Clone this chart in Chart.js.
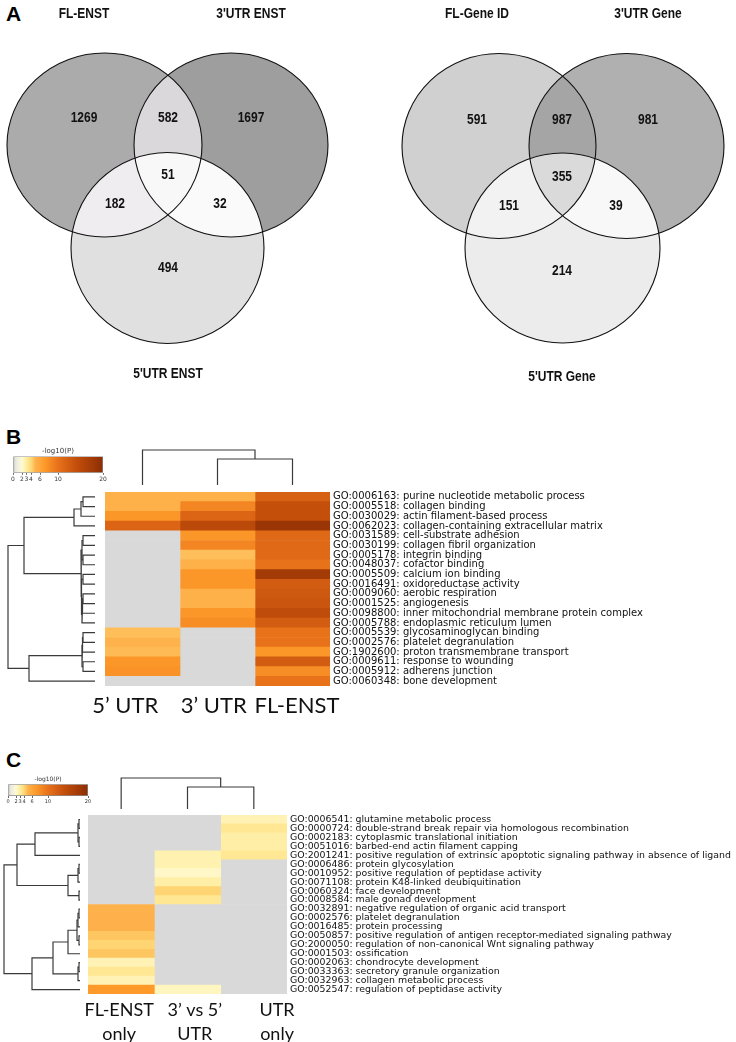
<!DOCTYPE html>
<html>
<head>
<meta charset="utf-8">
<script src="https://cdn.jsdelivr.net/npm/chart.js@4.4.0/dist/chart.umd.min.js"></script>
<style>
  body { margin: 0; width: 736px; height: 1042px; background: #fff; position: relative; overflow: hidden; }
  .box { position: absolute; }
  .tag { position: absolute; font-family: "Liberation Sans", Arial, sans-serif; font-weight: bold; font-size: 21px; color: #000; }
</style>
</head>
<body>
<div class="tag" style="left:6px;top:2px">A</div>
<div class="tag" style="left:6px;top:425px">B</div>
<div class="tag" style="left:6px;top:748px">C</div>

<div class="box" style="left:0;top:0"><canvas id="venn" width="736" height="392"></canvas></div>

<div class="box" style="left:0;top:446px"><canvas id="legB" width="116" height="38"></canvas></div>
<div class="box" style="left:105px;top:444px"><canvas id="colB" width="225" height="41"></canvas></div>
<div class="box" style="left:0;top:492px"><canvas id="rowB" width="95" height="194"></canvas></div>
<div class="box" style="left:0;top:480px"><canvas id="heatB" width="736" height="250"></canvas></div>

<div class="box" style="left:0;top:775px"><canvas id="legC" width="96" height="31"></canvas></div>
<div class="box" style="left:88px;top:770px"><canvas id="colC" width="199" height="39"></canvas></div>
<div class="box" style="left:0;top:815px"><canvas id="rowC" width="80" height="179"></canvas></div>
<div class="box" style="left:0;top:805px"><canvas id="heatC" width="736" height="237"></canvas></div>

<script>
// ---- Panel A: Venn counts, regions = A only, B only, C only, AB, AC, BC, ABC
const vennRegions = ['100', '010', '001', '110', '101', '011', '111'];
const enstSets = ['FL-ENST', "3'UTR ENST", "5'UTR ENST"];
const enstCounts = [1269, 1697, 494, 582, 182, 32, 51];
const geneSets = ['FL-Gene ID', "3'UTR Gene", "5'UTR Gene"];
const geneCounts = [591, 981, 214, 987, 151, 39, 355];

// ---- Panel B: GO terms x (5' UTR, 3' UTR, FL-ENST), values are -log10(P), null = not enriched
const termsB = [
  'GO:0006163: purine nucleotide metabolic process',
  'GO:0005518: collagen binding',
  'GO:0030029: actin filament-based process',
  'GO:0062023: collagen-containing extracellular matrix',
  'GO:0031589: cell-substrate adhesion',
  'GO:0030199: collagen fibril organization',
  'GO:0005178: integrin binding',
  'GO:0048037: cofactor binding',
  'GO:0005509: calcium ion binding',
  'GO:0016491: oxidoreductase activity',
  'GO:0009060: aerobic respiration',
  'GO:0001525: angiogenesis',
  'GO:0098800: inner mitochondrial membrane protein complex',
  'GO:0005788: endoplasmic reticulum lumen',
  'GO:0005539: glycosaminoglycan binding',
  'GO:0002576: platelet degranulation',
  'GO:1902600: proton transmembrane transport',
  'GO:0009611: response to wounding',
  'GO:0005912: adherens junction',
  'GO:0060348: bone development'
];
const colNamesB = ['5\u2019 UTR', '3\u2019 UTR', 'FL-ENST'];
const utr5B = [5.2, 5.2, 7.3, 11.5, null, null, null, null, null, null, null, null, null, null, 4.7, 5.0, 4.8, 7.3, 7.5, null];
const utr3B = [5.2, 8.5, 11.5, 15, 7.3, 8.5, 4.7, 5.2, 7.3, 7.3, 5.2, 5.2, 7.3, 8, null, null, null, null, null, null];
const flB = [12, 14, 14, 18.5, 11, 11, 11, 10, 17.5, 12.5, 13, 13.3, 14.5, 12.5, 10, 10, 7.3, 12.5, 8, 10];
// dendrograms: [left, right, height], ids >= leaf count refer to earlier merges
const rowMergesB = [
  [0, 1, 12], [20, 2, 14], [21, 3, 21],
  [4, 5, 12], [6, 7, 12], [23, 24, 13], [8, 9, 12], [10, 11, 12], [27, 12, 12.5], [28, 13, 13],
  [26, 29, 13.5], [25, 30, 14], [22, 31, 71],
  [14, 15, 12], [33, 16, 12.5], [17, 18, 12], [34, 35, 13], [36, 19, 66], [32, 37, 87]
];
const colMergesB = [[1, 2, 26], [0, 3, 35]];

// ---- Panel C
const termsC = [
  'GO:0006541: glutamine metabolic process',
  'GO:0000724: double-strand break repair via homologous recombination',
  'GO:0002183: cytoplasmic translational initiation',
  'GO:0051016: barbed-end actin filament capping',
  'GO:2001241: positive regulation of extrinsic apoptotic signaling pathway in absence of ligand',
  'GO:0006486: protein glycosylation',
  'GO:0010952: positive regulation of peptidase activity',
  'GO:0071108: protein K48-linked deubiquitination',
  'GO:0060324: face development',
  'GO:0008584: male gonad development',
  'GO:0032891: negative regulation of organic acid transport',
  'GO:0002576: platelet degranulation',
  'GO:0016485: protein processing',
  'GO:0050857: positive regulation of antigen receptor-mediated signaling pathway',
  'GO:2000050: regulation of non-canonical Wnt signaling pathway',
  'GO:0001503: ossification',
  'GO:0002063: chondrocyte development',
  'GO:0033363: secretory granule organization',
  'GO:0032963: collagen metabolic process',
  'GO:0052547: regulation of peptidase activity'
];
const colNamesC = [['FL-ENST', 'only'], ['3\u2019 vs 5\u2019', 'UTR'], ['UTR', 'only']];
const flOnlyC = [null, null, null, null, null, null, null, null, null, null, 5, 5.1, 5.1, 4.5, 4.1, 4.5, 2.6, 3.3, 2.6, 7];
const utrVsC = [null, null, null, null, 2.7, 2.7, 2.2, 2.9, 4.1, 3.3, null, null, null, null, null, null, null, null, null, 2.4];
const utrOnlyC = [2.6, 3.3, 2.9, 2.9, 3.3, null, null, null, null, null, null, null, null, null, null, null, null, null, null, null];
const rowMergesC = [
  [0, 1, 1], [2, 3, 1], [20, 21, 2], [22, 4, 45],
  [5, 6, 1], [24, 7, 2], [8, 9, 1], [25, 26, 12], [23, 27, 63],
  [10, 11, 1], [29, 12, 2], [13, 14, 1], [30, 31, 3], [32, 15, 12],
  [16, 17, 1], [34, 18, 2], [33, 35, 27], [36, 19, 48], [28, 37, 76]
];
const colMergesC = [[1, 2, 22], [0, 3, 31]];

const legendTicks = [0, 2, 3, 4, 6, 10, 20];

// ---- styles / layout
const cmapStops = [[0, '#d9d9d9'], [1, '#efefe0'], [2, '#fffad2'], [3, '#ffeda0'], [4, '#fed976'],
  [5, '#feb24c'], [7, '#fd9a2a'], [10, '#e8721a'], [14, '#c44f0b'], [20, '#8c2d04']];
const emptyCell = '#d9d9d9';

function hex(c) { return [1, 3, 5].map(i => parseInt(c.substr(i, 2), 16)); }
function cmap(v) {
  if (v === null) return emptyCell;
  for (let i = 1; i < cmapStops.length; i++) {
    const [v1, c1] = cmapStops[i];
    if (v <= v1) {
      const [v0, c0] = cmapStops[i - 1];
      const t = (v - v0) / (v1 - v0);
      const a = hex(c0), b = hex(c1);
      return 'rgb(' + a.map((x, k) => Math.round(x + (b[k] - x) * t)).join(',') + ')';
    }
  }
  return cmapStops[cmapStops.length - 1][1];
}

const vennLayout = {
  left: {
    circles: [{ cx: 104.5, cy: 145, rx: 97.5, ry: 92 }, { cx: 231, cy: 145, rx: 97, ry: 92 }, { cx: 167.5, cy: 248, rx: 96.5, ry: 95.5 }],
    spots: [[84, 118], [251, 118], [168, 268], [168, 118], [115, 204], [220, 204], [168, 175]],
    titles: [[84, 14], [251, 14], [168, 374]],
    fills: ['#ababab', '#9e9e9e', '#e0e0e0', '#dbd8db', '#efedef', '#fafafa', '#f8f8f8']
  },
  right: {
    circles: [{ cx: 499, cy: 146, rx: 97, ry: 92.5 }, { cx: 626.5, cy: 146, rx: 97.5, ry: 92.5 }, { cx: 562.5, cy: 248, rx: 97.5, ry: 95 }],
    spots: [[477, 120], [648, 120], [562, 271], [562, 120], [509, 206], [616, 206], [562, 177]],
    titles: [[477, 14], [648, 14], [562, 377]],
    fills: ['#d0d0d0', '#b0b0b0', '#ececec', '#a5a5a5', '#f2f2f2', '#f8f8f8', '#dadada']
  }
};
const vennFont = 'bold 15px "Liberation Sans", Arial, sans-serif';
const vennSquash = 0.8;

const base = {
  responsive: false,
  maintainAspectRatio: false,
  animation: false,
  devicePixelRatio: 1,
  events: []
};

// ---- Venn chart: invisible pixel scales, circles drawn by plugin
const vennPlugin = {
  id: 'venn',
  afterDatasetsDraw(chart) {
    const { ctx, scales: { x, y } } = chart;
    const label = (txt, px, py) => {
      ctx.save();
      ctx.translate(x.getPixelForValue(px), y.getPixelForValue(py));
      ctx.scale(vennSquash, 1);
      ctx.fillText(txt, 0, 0);
      ctx.restore();
    };
    const draw = (lay, sets, counts) => {
      const path = c => {
        ctx.beginPath();
        ctx.ellipse(x.getPixelForValue(c.cx), y.getPixelForValue(c.cy),
          x.getPixelForValue(c.cx + c.rx) - x.getPixelForValue(c.cx),
          y.getPixelForValue(c.cy + c.ry) - y.getPixelForValue(c.cy), 0, 0, Math.PI * 2);
      };
      vennRegions.forEach((code, i) => {
        ctx.save();
        lay.circles.forEach((c, k) => { if (code[k] === '1') { path(c); ctx.clip(); } });
        ctx.fillStyle = lay.fills[i];
        ctx.fillRect(0, 0, chart.width, chart.height);
        ctx.restore();
      });
      ctx.strokeStyle = '#111';
      ctx.lineWidth = 1.1;
      lay.circles.forEach(c => { path(c); ctx.stroke(); });
      ctx.fillStyle = '#111';
      ctx.textAlign = 'center';
      ctx.textBaseline = 'middle';
      ctx.font = vennFont;
      counts.forEach((n, i) => label(String(n), lay.spots[i][0], lay.spots[i][1]));
      sets.forEach((s, i) => label(s, lay.titles[i][0], lay.titles[i][1]));
    };
    draw(vennLayout.left, enstSets, enstCounts);
    draw(vennLayout.right, geneSets, geneCounts);
  }
};

new Chart(document.getElementById('venn'), {
  type: 'scatter',
  data: { datasets: [{ data: [] }] },
  options: {
    ...base,
    layout: { padding: 0 },
    plugins: { legend: { display: false }, tooltip: { enabled: false } },
    scales: {
      x: { display: false, min: 0, max: 736 },
      y: { display: false, min: 0, max: 392, reverse: true }
    }
  },
  plugins: [vennPlugin]
});

// ---- dendrograms as line segments on a scatter chart
function dendroLines(merges, n) {
  const pos = [], ht = [], lines = [];
  for (let i = 0; i < n; i++) { pos[i] = i; ht[i] = 0; }
  merges.forEach(([a, b, h], k) => {
    lines.push([[pos[a], ht[a]], [pos[a], h], [pos[b], h], [pos[b], ht[b]]]);
    pos[n + k] = (pos[a] + pos[b]) / 2;
    ht[n + k] = h;
  });
  return lines;
}

function dendrogram(id, merges, n, horizontal, hMax) {
  const lines = dendroLines(merges, n);
  const datasets = lines.map(l => ({
    data: l.map(([p, h]) => horizontal ? { x: h, y: p } : { x: p, y: h }),
    showLine: true, borderColor: '#3a3a3a', borderWidth: 1.2, pointRadius: 0, clip: false
  }));
  const leafAxis = { display: false, min: -0.5, max: n - 0.5, reverse: horizontal };
  const hAxis = { display: false, min: 0, max: hMax, reverse: horizontal };
  new Chart(document.getElementById(id), {
    type: 'scatter',
    data: { datasets },
    options: {
      ...base,
      layout: { padding: 0 },
      plugins: { legend: { display: false }, tooltip: { enabled: false } },
      scales: horizontal ? { x: hAxis, y: leafAxis } : { x: leafAxis, y: hAxis }
    }
  });
}

// ---- heatmap as stacked horizontal bars, one dataset per column
function heatmap(id, terms, columns, names, tickAt, o) {
  new Chart(document.getElementById(id), {
    type: 'bar',
    data: {
      labels: terms,
      datasets: columns.map((vals, c) => ({
        label: Array.isArray(names[c]) ? names[c].join(' ') : names[c],
        data: vals.map(() => 1),
        backgroundColor: vals.map(cmap),
        borderWidth: 0,
        barPercentage: 1,
        categoryPercentage: 1
      }))
    },
    options: {
      ...base,
      indexAxis: 'y',
      layout: { padding: { left: o.left, top: o.top, right: 0, bottom: 0 } },
      plugins: { legend: { display: false }, tooltip: { enabled: false } },
      scales: {
        x: {
          type: 'linear', stacked: true, min: 0, max: columns.length,
          grid: { display: false, drawTicks: false }, border: { display: false },
          afterBuildTicks: s => { s.ticks = tickAt.map(v => ({ value: v })); },
          afterFit: s => { s.height = o.xHeight; },
          ticks: {
            autoSkip: false, maxRotation: 0, padding: o.xPad, color: '#111',
            font: { family: 'Lato, "Open Sans", sans-serif', size: o.xFont, lineHeight: o.xLine },
            callback: (v, i) => names[i]
          }
        },
        y: {
          position: 'right', stacked: true,
          grid: { display: false, drawTicks: false }, border: { display: false },
          afterFit: s => { s.width = o.yWidth; },
          ticks: {
            autoSkip: false, padding: 3, color: '#111',
            font: { family: '"DejaVu Sans", sans-serif', size: o.yFont, lineHeight: 1 }
          }
        }
      }
    }
  });
}

// ---- colour key
function colorKey(id, o) {
  new Chart(document.getElementById(id), {
    type: 'bar',
    data: {
      labels: [''],
      datasets: [{
        data: [[0, 20]],
        borderColor: '#8a8a8a', borderWidth: 1, borderSkipped: false,
        barPercentage: 1, categoryPercentage: 1,
        backgroundColor: c => {
          const ch = c.chart;
          if (!ch.chartArea) return emptyCell;
          const sx = ch.scales.x;
          const g = ch.ctx.createLinearGradient(sx.getPixelForValue(0), 0, sx.getPixelForValue(20), 0);
          cmapStops.forEach(([v, col]) => g.addColorStop(v / 20, col));
          return g;
        }
      }]
    },
    options: {
      ...base,
      indexAxis: 'y',
      layout: { padding: { left: o.left, right: o.right, top: 0, bottom: 0 } },
      plugins: {
        legend: { display: false }, tooltip: { enabled: false },
        title: { display: true, text: '-log10(P)', color: '#333', padding: { top: 1, bottom: 1 }, font: { family: '"DejaVu Sans", sans-serif', size: o.font + 1, weight: 'normal' } }
      },
      scales: {
        x: {
          type: 'linear', min: 0, max: 20,
          afterBuildTicks: s => { s.ticks = legendTicks.map(v => ({ value: v })); },
          grid: { drawOnChartArea: false, drawTicks: true, tickLength: 2, color: '#666' },
          border: { display: false },
          ticks: { autoSkip: false, maxRotation: 0, padding: 1, color: '#333', font: { family: '"DejaVu Sans", sans-serif', size: o.font } }
        },
        y: { display: false }
      }
    }
  });
}

colorKey('legB', { left: 13, right: 13, font: 6 });
dendrogram('colB', colMergesB, 3, false, 41);
dendrogram('rowB', rowMergesB, 20, true, 95);
heatmap('heatB', termsB, [utr5B, utr3B, flB], colNamesB, [0.27, 1.45, 2.56],
  { left: 105, top: 12, yWidth: 406, xHeight: 44, xPad: 7, xFont: 22, xLine: 1.2, yFont: 10 });

colorKey('legC', { left: 8, right: 8, font: 5 });
dendrogram('colC', colMergesC, 3, false, 39);
dendrogram('rowC', rowMergesC, 20, true, 80);
heatmap('heatC', termsC, [flOnlyC, utrVsC, utrOnlyC], colNamesC, [0.47, 1.61, 2.85],
  { left: 88, top: 10, yWidth: 449, xHeight: 48, xPad: 4, xFont: 18, xLine: 1.33, yFont: 9.4 });
</script>
</body>
</html>
